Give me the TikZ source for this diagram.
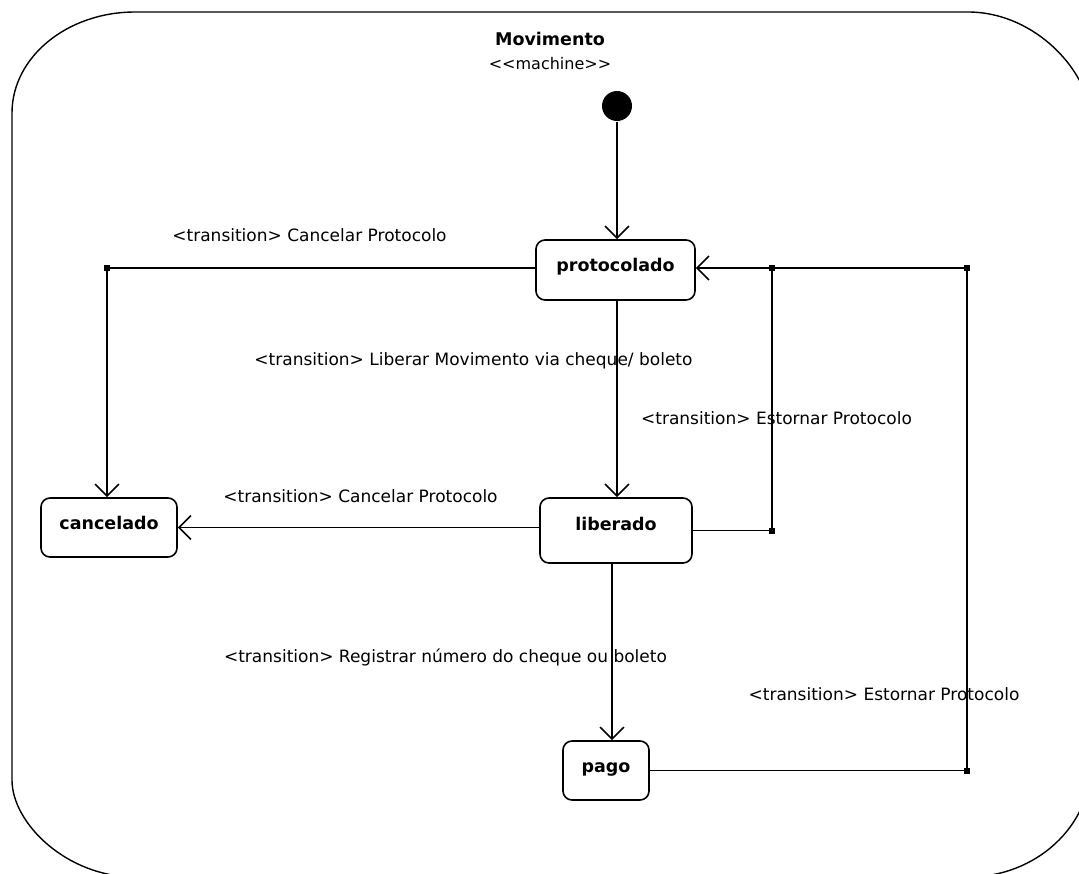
\documentclass[tikz,border=0pt]{standalone}
\usepackage{fontspec}
\setmainfont{DejaVu Sans}
\usetikzlibrary{arrows.meta}
\begin{document}
\begin{tikzpicture}[x=1pt, y=-1pt, line width=1.6pt,
  >={Straight Barb[length=12pt,width=24pt]},
  state/.style={draw, rounded corners=9pt, inner sep=0pt,
    font=\fontsize{17.5}{20}\selectfont\bfseries,
    text height=13pt, text depth=10pt},
  tlabel/.style={font=\fontsize{17}{20}\selectfont, inner sep=0pt, anchor=base},
  junction/.style={fill, rectangle, minimum size=6pt, inner sep=0pt},
  initial/.style={circle, fill, minimum size=30pt, inner sep=0pt},
]
\useasboundingbox (0,0) rectangle (1079,873);
\clip (0,0) rectangle (1079,873);

% state machine frame with elliptical corners
\draw[line width=1.4pt] (12,113) .. controls (12,57.2) and (67.1,12) .. (135,12)
  -- (968,12)
  .. controls (1035.9,12) and (1091,72.7) .. (1091,122)
  -- (1091,764)
  .. controls (1091,826.4) and (1035.9,877) .. (968,877)
  -- (135,877)
  .. controls (67.1,877) and (12,823.5) .. (12,780)
  -- cycle;

% header
\node[font=\fontsize{17.5}{20}\selectfont\bfseries, anchor=base, inner sep=0pt]
  (title) at (550,45) {Movimento};
\node[tlabel, font=\fontsize{16}{19}\selectfont] (stereo) at (550,69)
  {<\kern0pt<machine>\kern0pt>};

% states
\node[initial] (init) at (617,106) {};
\node[state, minimum width=159pt, minimum height=60pt] (prot) at (615.5,270) {protocolado};
\node[state, minimum width=136pt, minimum height=59pt] (canc) at (109,527.5) {cancelado};
\node[state, minimum width=152pt, minimum height=65pt, text depth=14pt] (lib) at (616,530.5) {liberado};
\node[state, minimum width=86pt, minimum height=59pt] (pago) at (606,770.5) {pago};

% junction points
\node[junction] (jL)  at (107,268) {};
\node[junction] (jR1) at (772,530.5) {};
\node[junction] (jR2) at (772,268) {};
\node[junction] (jF1) at (967,770.5) {};
\node[junction] (jF2) at (967,268) {};
\coordinate (lp) at (612,0);

% transitions
\draw[->] (init) -- (init |- prot.north);
\draw[->] (jL -| prot.west) -- (jL.center) -- (jL |- canc.north);
\draw[->] (init |- prot.south) -- (init |- lib.north);
\draw[->] (lib.west |- canc.east) -- (canc.east);
\draw[->] (lib.east) -- (jR1.center) -- (jR2.center) -- (jR2 -| prot.east);
\draw (pago.east) -- (jF1.center) -- (jF2.center) -- (jR2.center);
\draw[->] (lib.south -| lp) -- (pago.north -| lp);

% transition labels
\node[tlabel] (t1) at (309.5,241) {<transition> Cancelar Protocolo};
\node[tlabel] (t2) at (473.5,365) {<transition> Liberar Movimento via cheque/ boleto};
\node[tlabel] (t3) at (776.5,424) {<transition> Estornar Protocolo};
\node[tlabel] (t4) at (360.5,502) {<transition> Cancelar Protocolo};
\node[tlabel] (t5) at (445.5,662) {<transition> Registrar número do cheque ou boleto};
\node[tlabel] (t6) at (884,700) {<transition> Estornar Protocolo};
\end{tikzpicture}
\end{document}
